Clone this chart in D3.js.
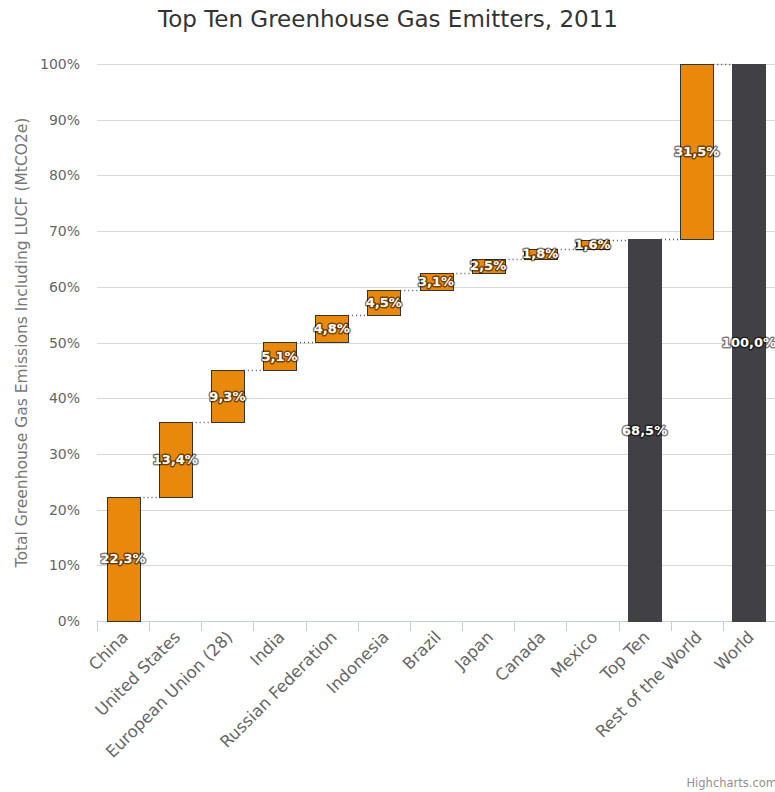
<!DOCTYPE html>
<html><head><meta charset="utf-8">
<script src="https://cdn.jsdelivr.net/npm/d3@7"></script>
<style>body{margin:0;background:#fff}svg{display:block;font-family:"DejaVu Sans",sans-serif}</style>
</head><body><svg id="c" width="775" height="792"></svg>
<script>
const categories = ["China","United States","European Union (28)","India","Russian Federation","Indonesia","Brazil","Japan","Canada","Mexico","Top Ten","Rest of the World","World"];
const values = [22.3,13.4,9.3,5.1,4.8,4.5,3.1,2.5,1.8,1.6,68.5,31.5,100.0];
const kinds = ["delta","delta","delta","delta","delta","delta","delta","delta","delta","delta","sum","delta","sum"];
const yTicks = [0,10,20,30,40,50,60,70,80,90,100];

const svg = d3.select("#c");
const M = {left:97, right:775, top:64, bottom:621};
const x = d3.scaleBand().domain(categories).range([M.left, M.right]).paddingInner(0.37).paddingOuter(0.185);
const y = d3.scaleLinear().domain([0,100]).range([M.bottom, M.top]);

// build waterfall
let run = 0;
const bars = categories.map((c,i)=>{
  let lo, hi;
  if (kinds[i]==="sum"){ lo=0; hi=values[i]; run=values[i]; }
  else { lo=run; hi=run+values[i]; run=hi; }
  return {c, v:values[i], lo, hi, kind:kinds[i], end:run};
});

// title
svg.append("text").attr("x",388).attr("y",27).attr("text-anchor","middle")
  .attr("font-size",23).attr("fill","#333").text("Top Ten Greenhouse Gas Emitters, 2011");

// grid
svg.append("g").selectAll("line").data(yTicks).join("line")
  .attr("x1",M.left).attr("x2",M.right).attr("y1",d=>Math.round(y(d))+0.5).attr("y2",d=>Math.round(y(d))+0.5)
  .attr("stroke","#d8d8d8").attr("stroke-width",1);
svg.append("g").selectAll("text").data(yTicks).join("text")
  .attr("x",80).attr("y",d=>y(d)+5).attr("text-anchor","end")
  .attr("font-size",14).attr("fill","#666").text(d=>d+"%");

// y title
svg.append("text").attr("transform",`translate(27,${(M.top+M.bottom)/2}) rotate(-90)`)
  .attr("text-anchor","middle").attr("font-size",15.5).attr("fill","#777")
  .text("Total Greenhouse Gas Emissions Including LUCF (MtCO2e)");

// x axis
svg.append("line").attr("x1",M.left).attr("x2",M.right).attr("y1",M.bottom+0.5).attr("y2",M.bottom+0.5).attr("stroke","#c0d0e0");
const step = x.step();
const tickXs = categories.map((c,i)=>M.left+i*step).concat([M.right]);
svg.append("g").selectAll("line").data(tickXs).join("line")
  .attr("x1",d=>Math.round(d)+0.5).attr("x2",d=>Math.round(d)+0.5).attr("y1",M.bottom).attr("y2",M.bottom+10)
  .attr("stroke","#c0d0e0");
svg.append("g").selectAll("text").data(categories).join("text")
  .attr("transform",c=>`translate(${x(c)+x.bandwidth()/2+2},${M.bottom+13}) rotate(-45)`)
  .attr("text-anchor","end").attr("dy","0.35em").attr("font-size",16.5).attr("fill","#666").text(c=>c);

// connectors
const conn = bars.slice(0,-1).map((b,i)=>({x1:x(b.c)+x.bandwidth(), x2:x(bars[i+1].c), yv:b.end}));
svg.append("g").selectAll("line").data(conn).join("line")
  .attr("x1",d=>d.x1).attr("x2",d=>d.x2).attr("y1",d=>Math.round(y(d.yv))+0.5).attr("y2",d=>Math.round(y(d.yv))+0.5)
  .attr("stroke","#555").attr("stroke-width",1.3).attr("stroke-dasharray","1,3");

// bars
svg.append("g").selectAll("rect").data(bars).join("rect")
  .attr("x",d=>Math.round(x(d.c))+0.5).attr("width",Math.round(x.bandwidth()))
  .attr("y",d=>Math.round(y(d.hi))+0.5).attr("height",d=>Math.round(y(d.lo))-Math.round(y(d.hi)))
  .attr("fill",d=>d.kind==="sum"?"#414145":"#e8890c")
  .attr("stroke",d=>d.kind==="sum"?"#414145":"#333").attr("stroke-width",1);

// labels
const fmt = v => v.toFixed(1).replace(".",",")+"%";
const lab = svg.append("g").selectAll("g").data(bars).join("g")
  .attr("transform",d=>`translate(${x(d.c)+x.bandwidth()/2},${y((d.lo+d.hi)/2)})`);
lab.append("text").attr("text-anchor","middle").attr("dy","0.35em").attr("font-size",13).attr("font-weight","bold")
  .attr("fill","none").attr("stroke","rgba(0,0,0,0.5)").attr("stroke-width",3).attr("stroke-linejoin","round").text(d=>fmt(d.v));
lab.append("text").attr("text-anchor","middle").attr("dy","0.35em").attr("font-size",13).attr("font-weight","bold")
  .attr("fill","#fff").text(d=>fmt(d.v));

// credits
svg.append("text").attr("x",777).attr("y",787).attr("text-anchor","end").attr("font-size",11.5).attr("fill","#909090").text("Highcharts.com");
</script></body></html>
